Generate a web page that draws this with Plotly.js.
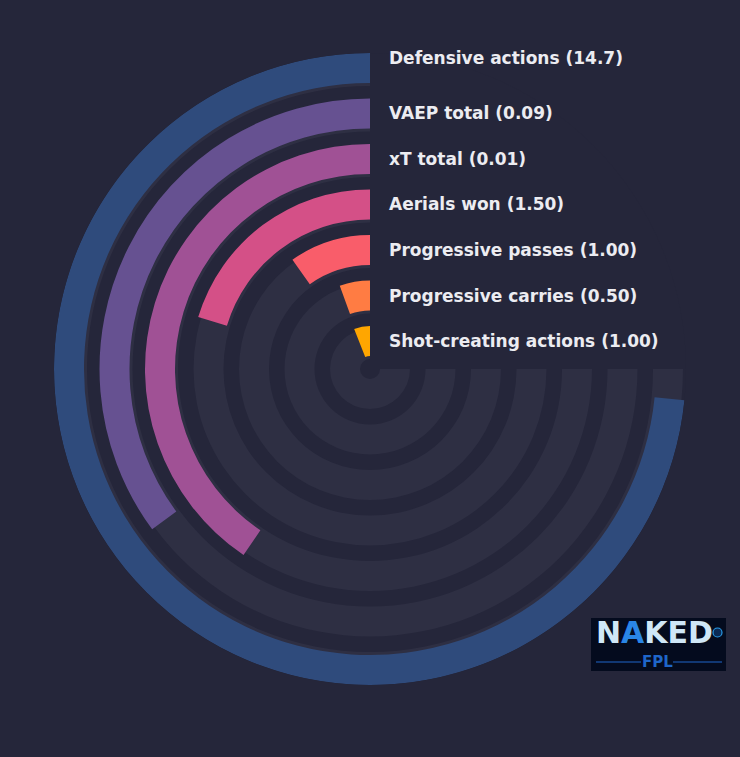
<!DOCTYPE html>
<html>
<head>
<meta charset="utf-8">
<script src="https://cdn.plot.ly/plotly-3.0.1.min.js"></script>
<style>
  html, body { margin: 0; padding: 0; background: #25263a; }
  #grafica { width: 740px; height: 757px; }
</style>
</head>
<body>
<div id="grafica"></div>
<script>
// metricas, de fuera hacia dentro
const metricas = [
  'Defensive actions',
  'VAEP total',
  'xT total',
  'Aerials won',
  'Progressive passes',
  'Progressive carries',
  'Shot-creating actions'
];
const valores = [14.7, 0.09, 0.01, 1.50, 1.00, 0.50, 1.00];
const percentiles = [97.9, 46.8, 54.0, 27.1, 13.1, 7.4, 8.0];

const colores = ['#2f4b7c', '#665191', '#a05195', '#d45087', '#f95d6a', '#ff7c43', '#ffa600'];

const FONDO = '#25263a';
const PISTA = '#2e2f43';
const ARCO_MAX = 270;

// geometria en pixeles (eje radial en px)
const ANCHO = 740;
const ALTO = 757;
const CX = 370;
const CY = 369;
const R_EXT = 316;
const PASO = 45.5;
const GROSOR = 30;
const DESFASE_PISTA = 3;

function formato(valor) {
  return valor >= 10 ? valor.toFixed(1) : valor.toFixed(2);
}

const exteriores = metricas.map((_, i) => R_EXT - PASO * i);
const interiores = exteriores.map(r => r - GROSOR);
const angulos = percentiles.map(p => p / 100 * ARCO_MAX);

const trazaPista = {
  type: 'barpolar',
  theta: metricas.map(() => ARCO_MAX / 2),
  width: metricas.map(() => ARCO_MAX),
  base: interiores.map(r => r - DESFASE_PISTA),
  r: metricas.map(() => GROSOR),
  marker: { color: PISTA, line: { width: 0 } },
  hoverinfo: 'skip',
  showlegend: false
};

const trazaValores = {
  type: 'barpolar',
  theta: angulos.map(a => a / 2),
  width: angulos,
  base: interiores,
  r: metricas.map(() => GROSOR),
  marker: { color: colores, line: { width: 0 } },
  hoverinfo: 'skip',
  showlegend: false
};

const etiquetas = metricas.map((nombre, i) => {
  const yPx = CY - (exteriores[i] - GROSOR / 2) - (i === 0 ? 10 : 0);
  return {
    xref: 'paper',
    yref: 'paper',
    x: 387 / ANCHO,
    y: 1 - yPx / ALTO,
    xanchor: 'left',
    yanchor: 'middle',
    showarrow: false,
    text: `<b>${nombre} (${formato(valores[i])})</b>`,
    font: { family: 'DejaVu Sans', size: 17, color: '#ececf1' }
  };
});

// logo
const logo = { x0: 591, x1: 726, y0: 618, y1: 671 };
const px = x => x / ANCHO;
const py = y => 1 - y / ALTO;

const formas = [
  {
    type: 'rect', xref: 'paper', yref: 'paper',
    x0: px(logo.x0), x1: px(logo.x1), y0: py(logo.y1), y1: py(logo.y0),
    fillcolor: '#040b1e', line: { width: 0 }
  },
  {
    type: 'line', xref: 'paper', yref: 'paper',
    x0: px(596), x1: px(641), y0: py(662), y1: py(662),
    line: { color: '#1f66c9', width: 1.2 }
  },
  {
    type: 'line', xref: 'paper', yref: 'paper',
    x0: px(673), x1: px(722), y0: py(662), y1: py(662),
    line: { color: '#1f66c9', width: 1.2 }
  },
  {
    type: 'circle', xref: 'paper', yref: 'paper',
    x0: px(713), x1: px(722), y0: py(637), y1: py(628),
    fillcolor: '#0a2a55', line: { color: '#2a9be6', width: 1.2 }
  }
];

const textosLogo = [
  {
    xref: 'paper', yref: 'paper', x: px(654), y: py(632),
    xanchor: 'center', yanchor: 'middle', showarrow: false,
    text: '<b>N<span style="color:#2a86e6">A</span>KED</b>',
    font: { family: 'DejaVu Sans', size: 30, color: '#cfe7f7' }
  },
  {
    xref: 'paper', yref: 'paper', x: px(657), y: py(662),
    xanchor: 'center', yanchor: 'middle', showarrow: false,
    text: '<b>FPL</b>',
    font: { family: 'DejaVu Sans', size: 15, color: '#1f66c9' }
  }
];

const layout = {
  width: ANCHO,
  height: ALTO,
  paper_bgcolor: FONDO,
  plot_bgcolor: FONDO,
  margin: { l: 0, r: 0, t: 0, b: 0 },
  showlegend: false,
  polar: {
    domain: {
      x: [(CX - R_EXT) / ANCHO, (CX + R_EXT) / ANCHO],
      y: [1 - (CY + R_EXT) / ALTO, 1 - (CY - R_EXT) / ALTO]
    },
    bgcolor: FONDO,
    barmode: 'overlay',
    radialaxis: { range: [0, R_EXT], visible: false, showgrid: false },
    angularaxis: {
      visible: false,
      showgrid: false,
      rotation: 90,
      direction: 'counterclockwise'
    }
  },
  shapes: formas,
  annotations: [...etiquetas, ...textosLogo]
};

Plotly.newPlot('grafica', [trazaPista, trazaValores], layout, { displayModeBar: false, staticPlot: true });
</script>
</body>
</html>
